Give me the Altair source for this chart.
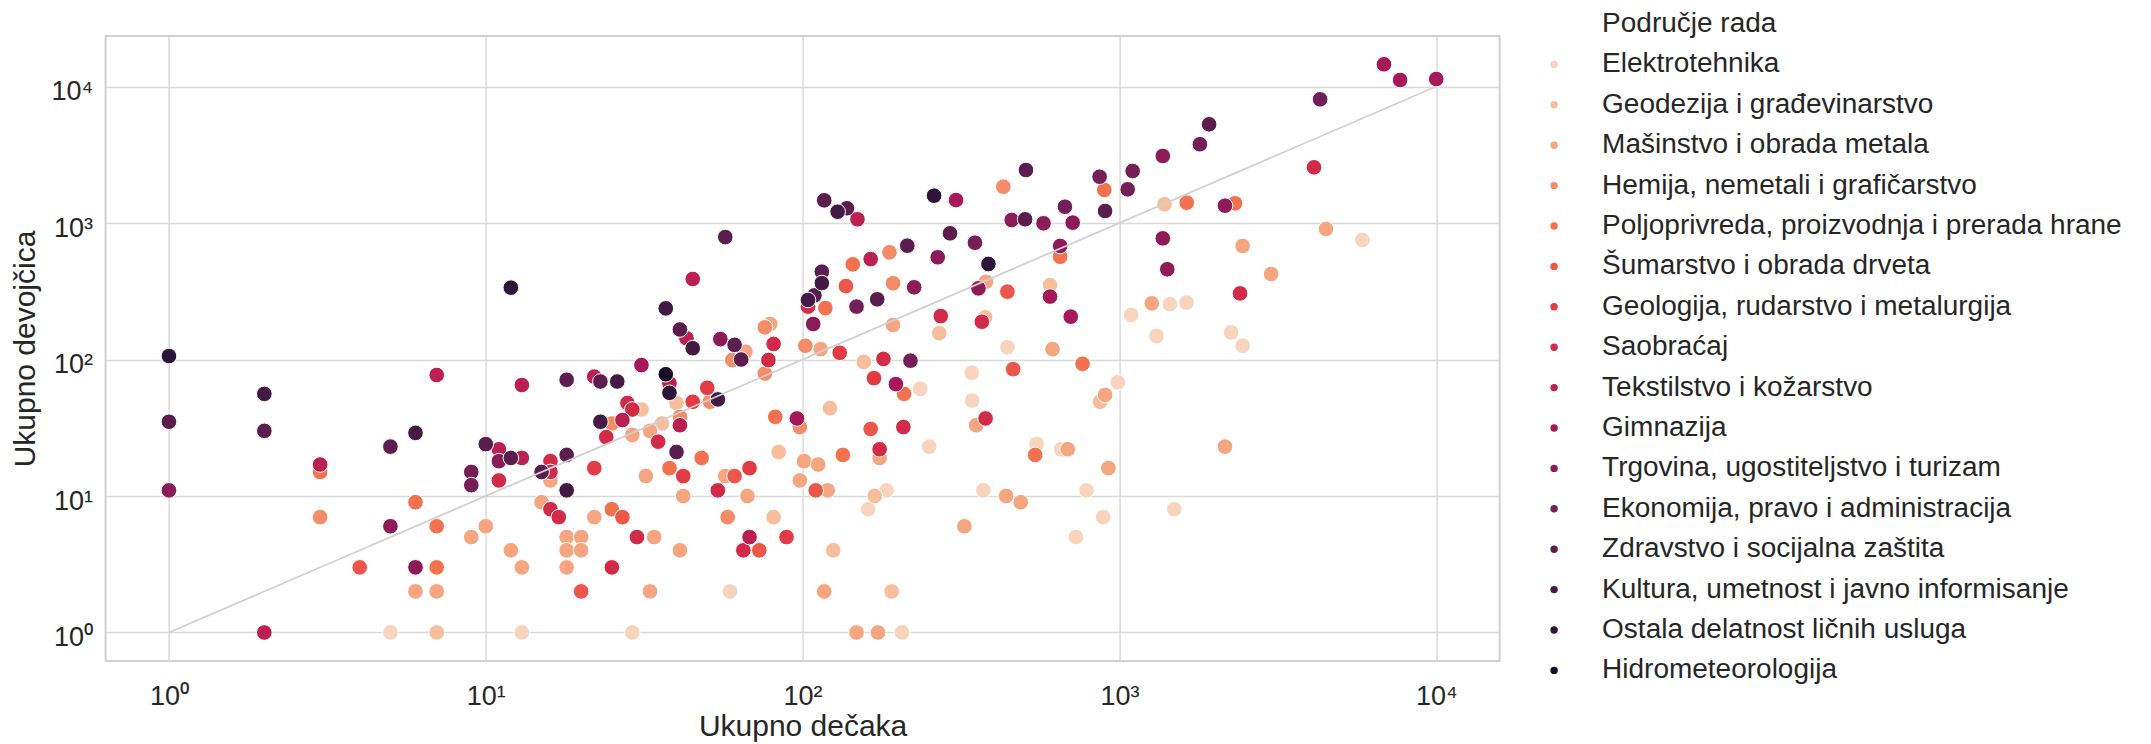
import altair as alt
import pandas as pd

CATEGORIES = [
    "Elektrotehnika",
    "Geodezija i građevinarstvo",
    "Mašinstvo i obrada metala",
    "Hemija, nemetali i grafičarstvo",
    "Poljoprivreda, proizvodnja i prerada hrane",
    "Šumarstvo i obrada drveta",
    "Geologija, rudarstvo i metalurgija",
    "Saobraćaj",
    "Tekstilstvo i kožarstvo",
    "Gimnazija",
    "Trgovina, ugostiteljstvo i turizam",
    "Ekonomija, pravo i administracija",
    "Zdravstvo i socijalna zaštita",
    "Kultura, umetnost i javno informisanje",
    "Ostala delatnost ličnih usluga",
    "Hidrometeorologija",
]
LEGEND_TITLE = "Područje rada"
X_TITLE = "Ukupno dečaka"
Y_TITLE = "Ukupno devojčica"
TICK_VALUES = [1, 10, 100, 1000, 10000]
TICK_LABELS = ["10⁰", "10¹", "10²", "10³", "10⁴"]
DIAGONAL = [1, 10000]

# (dečaci, devojčice) per područje rada
elektrotehnika = [(5, 1), (13, 1), (29, 1), (59, 2), (206, 1), (1088, 212), (1444, 254), (1629, 261),
                  (1310, 149), (443, 123), (235, 61), (342, 80), (343, 50), (988, 68), (251, 23),
                  (548, 24), (655, 22), (184, 11), (161, 8), (372, 11), (787, 11), (889, 7), (729, 5),
                  (1490, 8), (5847, 751), (2250, 158), (2449, 126)]
geodezija = [(7, 1), (40, 48), (36, 34), (31, 43), (84, 21), (81, 7), (122, 44), (125, 4), (1388, 1371),
             (270, 156), (377, 204), (604, 351), (156, 96), (869, 49), (169, 10), (191, 2)]
masinstvo = [(6, 2), (7, 2), (9, 5), (10, 6), (12, 4), (13, 3), (15, 9), (16, 13), (18, 5), (20, 5),
             (18, 4), (20, 4), (18, 3), (22, 7), (32, 14), (33, 2), (34, 5), (41, 4), (42, 10), (57, 14),
             (67, 10), (117, 2), (29, 28), (33, 30), (66, 114), (114, 119), (98, 13), (101, 18),
             (112, 17), (120, 11), (79, 182), (1265, 258), (615, 119), (193, 179), (379, 371),
             (353, 33), (175, 19), (687, 22), (923, 16), (901, 55), (439, 10), (488, 9), (324, 6),
             (148, 1), (173, 1), (4488, 904), (2449, 679), (3012, 423), (2154, 23)]
hemija = [(3, 7), (25, 34), (41, 38), (51, 49), (60, 99), (76, 79), (76, 172), (58, 7), (98, 32),
          (102, 126), (430, 1845), (188, 610), (193, 362)]
poljoprivreda = [(3, 15), (6, 9), (7, 6), (7, 3), (25, 8), (38, 16), (48, 19), (82, 38), (118, 238),
                 (144, 498), (650, 566), (896, 1746), (1631, 1409), (2317, 1394), (765, 93), (134, 20),
                 (209, 56), (542, 20)]
sumarstvo = [(4, 3), (20, 2), (27, 7), (61, 14), (73, 4), (110, 11), (137, 345), (164, 31), (443, 314),
             (462, 85)]
geologija = [(22, 16), (45, 49), (50, 62), (42, 14), (68, 16), (89, 5), (131, 112), (168, 73)]
saobracaj = [(11, 13), (16, 18), (16, 15), (16, 8), (17, 7), (24, 27), (25, 3), (28, 48), (29, 43),
             (30, 5), (35, 25), (54, 11), (65, 4), (78, 99), (81, 130), (104, 244), (180, 101),
             (208, 32), (175, 22), (273, 208), (368, 189), (378, 37), (4113, 2559), (2403, 305)]
tekstilstvo = [(2, 1), (3, 17), (7, 77), (11, 22), (13, 65), (13, 19), (22, 75), (27, 36), (41, 33),
               (38, 67), (45, 389), (43, 143), (68, 5), (149, 1065), (164, 544)]
gimnazija = [(31, 91), (96, 37), (197, 66), (305, 1473), (604, 289), (702, 206), (6840, 14550),
             (7690, 11160), (10000, 11350)]
trgovina = [(1, 11), (5, 6), (6, 3), (11, 18), (55, 141), (108, 182), (225, 338), (267, 561),
            (457, 1052), (576, 995), (712, 1006), (650, 679), (1371, 3097), (1371, 772), (1416, 458),
            (2154, 1339), (359, 332)]
ekonomija = [(9, 15), (9, 12), (148, 244), (219, 98), (350, 717), (866, 2183), (1101, 2404),
             (1062, 1765), (673, 1316), (1795, 3777), (4300, 8055)]
zdravstvo = [(1, 35), (2, 30), (5, 23), (10, 24), (12, 19), (15, 15), (18, 20), (18, 71), (23, 69),
             (40, 21), (41, 166), (61, 128), (64, 100), (57, 789), (109, 295), (115, 440), (117, 1466),
             (138, 1282), (172, 276), (214, 682), (292, 840), (507, 2444), (504, 1065), (901, 1224),
             (1919, 5285)]
kultura = [(2, 56), (6, 29), (18, 11), (23, 35), (26, 69), (37, 237), (45, 121), (54, 51), (104, 273),
           (115, 363), (129, 1210)]
ostala = [(1, 106), (12, 336), (38, 57), (260, 1585), (386, 501)]
hidrometeorologija = [(37, 78)]

SERIES = [elektrotehnika, geodezija, masinstvo, hemija, poljoprivreda, sumarstvo, geologija,
          saobracaj, tekstilstvo, gimnazija, trgovina, ekonomija, zdravstvo, kultura, ostala,
          hidrometeorologija]

# rocket_r palette (style)
COLORS = ["#F8D4BD", "#F7BE9D", "#F5A580", "#F48C67", "#F27250", "#EB574A", "#E33B44", "#D22B49",
          "#BC1F52", "#A61859", "#8D1B58", "#741F57", "#5B1D4E", "#431A44", "#2C1538", "#180D29"]

rows = []
for cat, pts in zip(CATEGORIES, SERIES):
    for b, g in pts:
        rows.append({"podrucje": cat, "decaci": b, "devojcice": g})
df = pd.DataFrame(rows)
diag = pd.DataFrame({"decaci": DIAGONAL, "devojcice": DIAGONAL})

FONT = "Liberation Sans"
TXT = "#262626"
label_expr = "[" + ",".join("'%s'" % t for t in TICK_LABELS) + "][round(log(datum.value)/LN10)]"

xscale = alt.Scale(type="log", domain=[10 ** -0.2, 10 ** 4.2], nice=False)
yscale = alt.Scale(type="log", domain=[10 ** -0.2088, 10 ** 4.370], nice=False)

xaxis = alt.Axis(values=TICK_VALUES, labelExpr=label_expr, title=X_TITLE, ticks=False, domain=False,
                 grid=True, gridColor="#D9D9D9", gridWidth=1.5, labelFont=FONT, labelFontSize=27,
                 labelColor=TXT, labelPadding=22.5, labelFlush=False, titleFont=FONT, titleFontSize=30,
                 titleFontWeight="normal", titleColor=TXT, titleBaseline="alphabetic", titleY=75)
yaxis = alt.Axis(values=TICK_VALUES, labelExpr=label_expr, title=Y_TITLE, ticks=False, domain=False,
                 grid=True, gridColor="#D9D9D9", gridWidth=1.5, labelFont=FONT, labelFontSize=27,
                 labelColor=TXT, labelPadding=13, labelFlush=False, labelBaseline="alphabetic",
                 labelOffset=13, titleFont=FONT, titleFontSize=30, titleFontWeight="normal",
                 titleColor=TXT, titlePadding=10)

legend = alt.Legend(title=None, orient="none", legendX=1434.5, legendY=-26, padding=0,
                    symbolType="circle", symbolSize=55, symbolStrokeWidth=0, symbolOpacity=1,
                    labelFont=FONT, labelFontSize=28, labelColor=TXT, labelOffset=34, labelLimit=1000,
                    rowPadding=12.4)

points = alt.Chart(df).mark_circle(size=245, opacity=1, stroke="white", strokeWidth=1).encode(
    x=alt.X("decaci:Q", scale=xscale, axis=xaxis),
    y=alt.Y("devojcice:Q", scale=yscale, axis=yaxis),
    color=alt.Color("podrucje:N",
                    scale=alt.Scale(domain=[LEGEND_TITLE] + CATEGORIES, range=["transparent"] + COLORS),
                    legend=legend),
)

line = alt.Chart(diag).mark_line(color="#D0D0D0", strokeWidth=1.8).encode(
    x=alt.X("decaci:Q", scale=xscale),
    y=alt.Y("devojcice:Q", scale=yscale),
)

chart = alt.layer(points, line).properties(
    width=1394, height=625,
    autosize=alt.AutoSizeParams(type="none"),
    padding={"left": 97.6, "top": 28, "right": 643, "bottom": 83},
).configure_view(stroke="#D0D0D0", strokeWidth=2)

chart.save("out.html", embed_options={"renderer": "svg", "actions": False})
